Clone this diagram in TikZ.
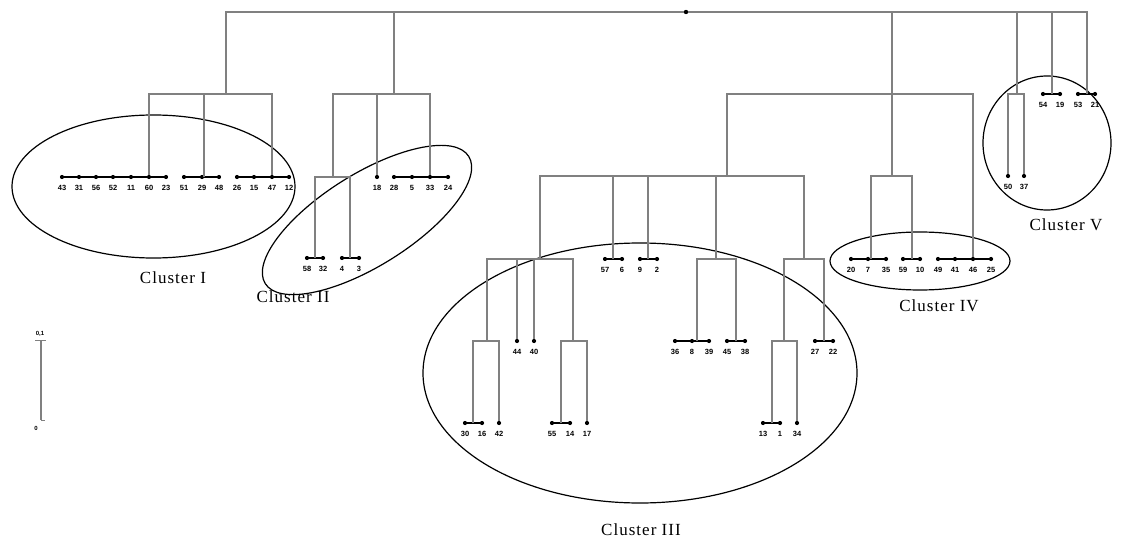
\documentclass[tikz,border=0pt]{standalone}
\usepackage{fontspec}
\setmainfont{Liberation Serif}
\newfontfamily\numfont{Liberation Sans}
\newfontfamily\clfont[LetterSpace=6]{Liberation Serif}
\usetikzlibrary{calc}
\begin{document}
\begin{tikzpicture}[x=1pt,y=-1pt,
  dend/.style={draw=black!50, line width=1.4pt},
  leafline/.style={draw=black, line width=1.1pt},
  dot/.style={circle, fill=black, inner sep=0pt, minimum size=4.2pt},
  lbl/.style={font=\numfont\bfseries\fontsize{7.5}{7.5}\selectfont, inner sep=0pt},
  slbl/.style={font=\numfont\bfseries\fontsize{6}{6}\selectfont, inner sep=0pt},
  clus/.style={draw=black, line width=1.2pt},
  clab/.style={font=\clfont\fontsize{17}{17}\selectfont, inner sep=0pt}]

\fill[white] (0,0) rectangle (1127,540);
\useasboundingbox (0,0) rectangle (1127,540);

% cluster ellipses
\draw[clus] (153.5,186.5) ellipse [x radius=141.5pt, y radius=71.5pt];
\draw[clus, rotate around={32:(367,220)}] (367,220) ellipse [x radius=120pt, y radius=46pt];
\draw[clus] (640,373) ellipse [x radius=217pt, y radius=130pt];
\draw[clus] (920,261) ellipse [x radius=90pt, y radius=29pt];
\draw[clus] (1047,143) ellipse [x radius=64pt, y radius=67pt];

% cluster labels
\node[clab] (L1) at (173,278) {Cluster I};
\node[clab] (L2) at (293,297) {Cluster II};
\node[clab] (L3) at (641,530) {Cluster III};
\node[clab] (L4) at (939,306) {Cluster IV};
\node[clab] (L5) at (1066,225) {Cluster V};

% leaves
\foreach \n/\x/\y in {43/62/177, 31/79/177, 56/96/177, 52/113/177, 11/131/177, 60/149/177, 23/166/177,
  51/184/177, 29/202/177, 48/219/177, 26/237/177, 15/254/177, 47/272/177, 12/289/177,
  18/377/177, 28/394/177, 5/412/177, 33/430/177, 24/448/177,
  58/307/258, 32/323/258, 4/342/258, 3/359/258,
  57/605/259, 6/622/259, 9/640/259, 2/657/259,
  44/517/341, 40/534/341, 36/675/341, 8/692/341, 39/709/341, 45/727/341, 38/745/341, 27/815/341, 22/833/341,
  30/465/423, 16/482/423, 42/499/423, 55/552/423, 14/570/423, 17/587/423, 13/763/423, 1/780/423, 34/797/423,
  20/851/259, 7/868/259, 35/886/259, 59/903/259, 10/920/259, 49/938/259, 41/955/259, 46/973/259, 25/991/259,
  54/1043/94, 19/1060/94, 53/1078/94, 21/1095/94, 50/1008/176, 37/1024/176} {
  \node[dot] (d\n) at (\x,\y) {};
  \node[lbl] (t\n) at (\x,\y+11) {\n};
}

% leaf bars
\foreach \a/\b in {43/23, 51/48, 26/12, 28/24, 58/32, 4/3, 57/6, 9/2, 30/16, 55/14,
  36/39, 45/38, 13/1, 27/22, 20/35, 59/10, 49/25, 54/19, 53/21} {
  \draw[leafline] (d\a) -- (d\b);
}

% root and junctions
\node[dot, minimum size=4.4pt] (root) at (686,12) {};
\coordinate (j1) at (226,94);
\coordinate (j2) at (394,94);
\coordinate (j2a) at (333,177);
\coordinate (j34) at (892,94);
\coordinate (j3) at (727,176);
\coordinate (j4) at (892,176);
\coordinate (j3a) at (540,259);
\coordinate (j3a1) at (487,341);
\coordinate (j3a2) at (573,341);
\coordinate (j3b) at (716,259);
\coordinate (j3c) at (804,259);
\coordinate (j3c1) at (784,341);
\coordinate (j5) at (1017,94);

% points on leaf bars
\coordinate (m29) at (204,177);
\coordinate (m5832) at (315,258);
\coordinate (m43) at (350,258);
\coordinate (m576) at (613,259);
\coordinate (m92) at (648,259);
\coordinate (m3016) at (473,423);
\coordinate (m5514) at (561,423);
\coordinate (m8) at (697,341);
\coordinate (m4538) at (736,341);
\coordinate (m2722) at (824,341);
\coordinate (m131) at (772,423);
\coordinate (m7) at (871,259);
\coordinate (m5910) at (912,259);
\coordinate (m5419) at (1052,94);
\coordinate (m5321) at (1087,94);

% dendrogram
\draw[dend] (j1) |- (root);
\draw[dend] (j2) |- (root);
\draw[dend] (j34) |- (root);
\draw[dend] (j5) |- (root);
\draw[dend] (m5419) |- (root);
\draw[dend] (m5321) |- (root);

\draw[dend] (d60) |- (j1);
\draw[dend] (m29) |- (j1);
\draw[dend] (d47) |- (j1);

\draw[dend] (j2a) |- (j2);
\draw[dend] (d18) |- (j2);
\draw[dend] (d33) |- (j2);
\draw[dend] (m5832) |- (j2a);
\draw[dend] (m43) |- (j2a);

\draw[dend] (j3) |- (j34);
\draw[dend] (j4) -- (j34);
\draw[dend] (d46) |- (j34);

\draw[dend] (j3a) |- (j3);
\draw[dend] (m576) |- (j3);
\draw[dend] (m92) |- (j3);
\draw[dend] (j3b) |- (j3);
\draw[dend] (j3c) |- (j3);

\draw[dend] (j3a1) |- (j3a);
\draw[dend] (d44) |- (j3a);
\draw[dend] (d40) |- (j3a);
\draw[dend] (j3a2) |- (j3a);
\draw[dend] (m3016) |- (j3a1);
\draw[dend] (d42) |- (j3a1);
\draw[dend] (m5514) |- (j3a2);
\draw[dend] (d17) |- (j3a2);

\draw[dend] (m8) |- (j3b);
\draw[dend] (m4538) |- (j3b);

\draw[dend] (j3c1) |- (j3c);
\draw[dend] (m2722) |- (j3c);
\draw[dend] (m131) |- (j3c1);
\draw[dend] (d34) |- (j3c1);

\draw[dend] (m7) |- (j4);
\draw[dend] (m5910) |- (j4);

\draw[dend] (d50) |- (j5);
\draw[dend] (d37) |- (j5);

% scale bar
\coordinate (s1) at (41,340);
\coordinate (s0) at (41,420);
\draw[dend] (s1) -- (s0);
\draw[dend, line width=1pt] ([xshift=-6pt]s1) -- ([xshift=5pt]s1);
\draw[dend, line width=1pt] (s0) -- ([xshift=4pt]s0);
\node[slbl] (sl1) at (40,334) {0,1};
\node[slbl] (sl0) at (36,428) {0};
\end{tikzpicture}
\end{document}
